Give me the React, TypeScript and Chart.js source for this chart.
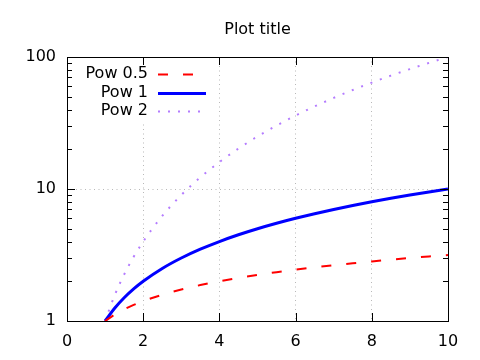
import React, { useEffect, useRef } from "react";
import { Chart, registerables } from "chart.js";

Chart.register(...registerables);

const titleText = "Plot title";
const xValues = [1, 1.25, 1.5, 1.75, 2, 2.5, 3, 3.5, 4, 4.5, 5, 5.5, 6, 6.5, 7, 7.5, 8, 8.5, 9, 9.5, 10];
const pow05 = [1, 1.118, 1.225, 1.323, 1.414, 1.581, 1.732, 1.871, 2, 2.121, 2.236, 2.345, 2.449, 2.55, 2.646, 2.739, 2.828, 2.915, 3, 3.082, 3.162];
const pow1 = [1, 1.25, 1.5, 1.75, 2, 2.5, 3, 3.5, 4, 4.5, 5, 5.5, 6, 6.5, 7, 7.5, 8, 8.5, 9, 9.5, 10];
const pow2 = [1, 1.5625, 2.25, 3.0625, 4, 6.25, 9, 12.25, 16, 20.25, 25, 30.25, 36, 42.25, 49, 56.25, 64, 72.25, 81, 90.25, 100];
const seriesLabels = ["Pow 0.5", "Pow 1", "Pow 2"];
const xTicks = [0, 2, 4, 6, 8, 10];
const yTicks = [1, 10, 100];
const yMinorTicks = [2, 3, 4, 5, 6, 7, 8, 9, 20, 30, 40, 50, 60, 70, 80, 90];

const FONT = "'DejaVu Sans', sans-serif";

const gnuplotPlugin = {
  id: "gnuplotDecor",
  afterDraw(chart: any) {
    const ctx = chart.ctx;
    const { left, right, top, bottom } = chart.chartArea;
    const xs = chart.scales.x;
    const ys = chart.scales.y;
    ctx.save();
    // key background
    ctx.fillStyle = "#ffffff";
    ctx.fillRect(left + 1, top + 5, 145, 59);
    // border
    ctx.strokeStyle = "#000";
    ctx.lineWidth = 1;
    ctx.setLineDash([]);
    ctx.strokeRect(Math.round(left) + 0.5, Math.round(top) + 0.5, Math.round(right - left), Math.round(bottom - top));
    ctx.beginPath();
    for (const v of xTicks) {
      const px = Math.round(xs.getPixelForValue(v)) + 0.5;
      ctx.moveTo(px, bottom);
      ctx.lineTo(px, bottom - 8);
      ctx.moveTo(px, top);
      ctx.lineTo(px, top + 8);
    }
    for (const v of yTicks) {
      const py = Math.round(ys.getPixelForValue(v)) + 0.5;
      ctx.moveTo(left, py);
      ctx.lineTo(left + 8, py);
      ctx.moveTo(right, py);
      ctx.lineTo(right - 8, py);
    }
    for (const v of yMinorTicks) {
      const py = Math.round(ys.getPixelForValue(v)) + 0.5;
      ctx.moveTo(left, py);
      ctx.lineTo(left + 5, py);
      ctx.moveTo(right, py);
      ctx.lineTo(right - 5, py);
    }
    ctx.stroke();
    // title
    ctx.fillStyle = "#000";
    ctx.font = "16px " + FONT;
    ctx.textAlign = "center";
    ctx.textBaseline = "middle";
    ctx.fillText(titleText, (left + right) / 2, 30);
    // legend
    const rowsY = [74, 92.5, 111];
    ctx.textAlign = "right";
    chart.data.datasets.forEach((ds: any, i: number) => {
      const y = rowsY[i];
      ctx.fillStyle = "#000";
      ctx.fillText(ds.label, 148, y);
      ctx.beginPath();
      ctx.strokeStyle = ds.borderColor;
      ctx.lineWidth = ds.borderWidth;
      ctx.setLineDash(ds.borderDash || []);
      ctx.lineDashOffset = 0;
      ctx.moveTo(158, Math.round(y) + 0.5);
      ctx.lineTo(206, Math.round(y) + 0.5);
      ctx.stroke();
    });
    ctx.restore();
  },
};

export default function App() {
  const ref = useRef<HTMLCanvasElement>(null);
  useEffect(() => {
    if (!ref.current) return;
    const mk = (arr: number[]) => xValues.map((x, i) => ({ x, y: arr[i] }));
    const chart = new Chart(ref.current, {
      type: "line",
      data: {
        datasets: [
          {
            label: seriesLabels[0],
            data: mk(pow05),
            borderColor: "#ff0000",
            borderWidth: 2,
            borderDash: [10, 15],
            pointRadius: 0,
            cubicInterpolationMode: "monotone",
            fill: false,
          },
          {
            label: seriesLabels[1],
            data: mk(pow1),
            borderColor: "#0000ff",
            borderWidth: 3,
            pointRadius: 0,
            cubicInterpolationMode: "monotone",
            fill: false,
          },
          {
            label: seriesLabels[2],
            data: mk(pow2),
            borderColor: "#b47cff",
            borderWidth: 2,
            borderDash: [2, 8],
            pointRadius: 0,
            cubicInterpolationMode: "monotone",
            fill: false,
          },
        ],
      },
      options: {
        animation: false,
        responsive: false,
        devicePixelRatio: 1,
        layout: { padding: { left: 0, top: 57, right: 32, bottom: 0 } },
        plugins: { legend: { display: false }, title: { display: false }, tooltip: { enabled: false } },
        scales: {
          x: {
            type: "linear",
            min: 0,
            max: 10,
            afterBuildTicks: (s: any) => {
              s.ticks = xTicks.map((v) => ({ value: v }));
            },
            afterFit: (s: any) => {
              s.height = 39;
            },
            ticks: { color: "#000", font: { family: FONT, size: 16 }, padding: 11, maxRotation: 0 },
            grid: { color: "#b8b8b8", lineWidth: 1, drawTicks: false },
            border: { display: false, dash: [1, 3.5] },
          },
          y: {
            type: "logarithmic",
            min: 1,
            max: 100,
            afterBuildTicks: (s: any) => {
              s.ticks = yTicks.map((v) => ({ value: v }));
            },
            afterFit: (s: any) => {
              s.width = 67;
            },
            ticks: {
              color: "#000",
              font: { family: FONT, size: 16 },
              padding: 11,
              callback: (v: any) => String(v),
            },
            grid: { color: "#b8b8b8", lineWidth: 1, drawTicks: false },
            border: { display: false, dash: [1, 3.5] },
          },
        },
      } as any,
      plugins: [gnuplotPlugin],
    });
    return () => chart.destroy();
  }, []);
  return (
    <div style={{ position: "fixed", left: 0, top: 0, width: 480, height: 360, background: "#fff" }}>
      <canvas ref={ref} width={480} height={360} />
    </div>
  );
}
